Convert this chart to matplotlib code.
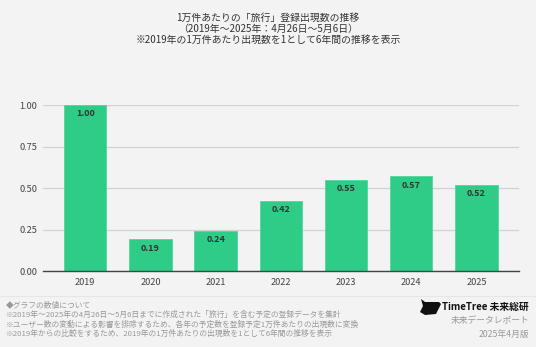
import matplotlib
matplotlib.use('Agg')
import matplotlib.pyplot as plt
from matplotlib.patches import Polygon
from matplotlib.lines import Line2D

plt.rcParams['font.family'] = ['Noto Sans CJK JP', 'DejaVu Sans']

# データ
years = ["2019", "2020", "2021", "2022", "2023", "2024", "2025"]
values = [1.00, 0.19, 0.24, 0.42, 0.55, 0.57, 0.52]
yticks = [0.00, 0.25, 0.50, 0.75, 1.00]

title_lines = [
    "1万件あたりの「旅行」登録出現数の推移",
    "（2019年～2025年：4月26日～5月6日）",
    "※2019年の1万件あたり出現数を1として6年間の推移を表示",
]
notes = [
    "◆グラフの数値について",
    "※2019年～2025年の4月26日～5月6日までに作成された「旅行」を含む予定の登録データを集計",
    "※ユーザー数の変動による影響を排除するため、各年の予定数を登録予定1万件あたりの出現数に変換",
    "※2019年からの比較をするため、2019年の1万件あたりの出現数を1として6年間の推移を表示",
]

BG = "#f3f3f3"
GREEN = "#2ecc87"

fig = plt.figure(figsize=(5.36, 3.47), dpi=100, facecolor=BG)
ax = fig.add_axes([0.080, 0.219, 0.888, 0.478])
ax.set_facecolor(BG)

x = range(len(years))
ax.bar(x, values, width=0.65, color=GREEN, edgecolor="#4fd99a", linewidth=0.6, zorder=3)
for xi, v in zip(x, values):
    ax.text(xi, v - 0.025, f"{v:.2f}", ha="center", va="top", fontsize=6.5,
            fontweight="bold", color="#333333", zorder=4)

ax.set_xlim(-0.65, 6.65)
ax.set_ylim(0, 1.0)
ax.set_yticks(yticks)
ax.set_yticklabels([f"{t:.2f}" for t in yticks])
ax.set_xticks(list(x))
ax.set_xticklabels(years)
ax.tick_params(axis="both", length=0, labelsize=6.6, labelcolor="#444444")
ax.tick_params(axis="x", pad=5)
ax.tick_params(axis="y", pad=4)
ax.yaxis.grid(True, color="#d2d2d2", linewidth=0.9, zorder=0)
ax.set_axisbelow(True)
for s in ["top", "right", "left"]:
    ax.spines[s].set_visible(False)
ax.spines["bottom"].set_color("#444444")
ax.spines["bottom"].set_linewidth(1.0)
ax.spines["bottom"].set_zorder(5)

# タイトル
for i, line in enumerate(title_lines):
    fig.text(0.5, 1 - (18 + i * 11) / 347, line, ha="center", va="center",
             fontsize=7.1, color="#333333")

# 区切り線
fig.add_artist(Line2D([0, 1], [1 - 296 / 347] * 2, color="#e6e6e6", linewidth=0.8))

# 注記
for i, line in enumerate(notes):
    fig.text(6 / 536, 1 - (306 + i * 9.2) / 347, line, ha="left", va="center",
             fontsize=5.6, color="#999999")

# ロゴ（簡易）
logo_px = [(421, 299), (425, 302), (439, 302), (441, 304), (436, 314),
           (425, 315), (420, 312), (423, 306)]
fig.add_artist(Polygon([(px / 536, 1 - py / 347) for px, py in logo_px], closed=True,
                       transform=fig.transFigure, facecolor="#111111"))
fig.text(529 / 536, 1 - 307 / 347, "TimeTree 未来総研", ha="right", va="center",
         fontsize=7, fontweight="bold", color="#111111")
fig.text(529 / 536, 1 - 321 / 347, "未来データレポート", ha="right", va="center",
         fontsize=6.3, color="#999999")
fig.text(529 / 536, 1 - 334 / 347, "2025年4月版", ha="right", va="center",
         fontsize=6.3, color="#999999")

fig.savefig("out.png", dpi=100, facecolor=BG)
